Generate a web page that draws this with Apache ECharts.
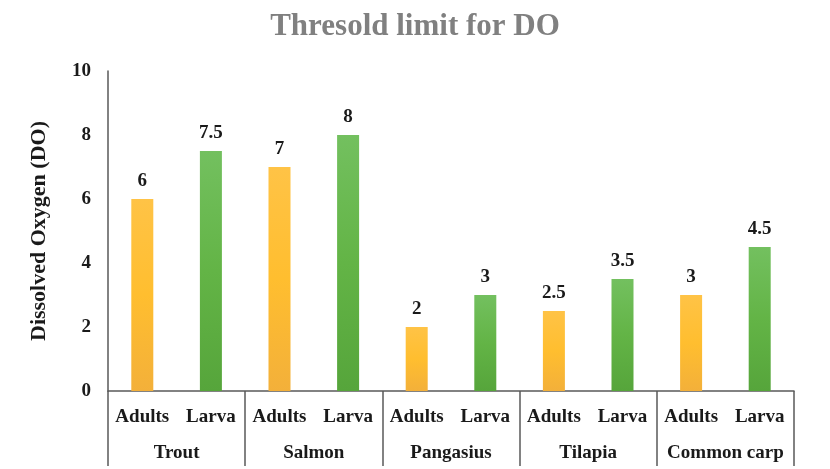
<!DOCTYPE html>
<html>
<head>
<meta charset="utf-8">
<script src="https://cdn.jsdelivr.net/npm/echarts@6/dist/echarts.min.js"></script>
<style>
  html, body { margin: 0; padding: 0; background: #fff; }
  #chart { width: 830px; height: 469px; }
</style>
</head>
<body>
<div id="chart"></div>
<script>
// chart data
var groups = ["Trout", "Salmon", "Pangasius", "Tilapia", "Common carp"];
var stages = ["Adults", "Larva"];
var adultsValues = [6, 7, 2, 2.5, 3];
var larvaValues = [7.5, 8, 3, 3.5, 4.5];
var yTicks = [0, 2, 4, 6, 8, 10];

var serif = "'Liberation Serif', 'DejaVu Serif', serif";

// colour per stage (vertical gradients)
var stageColors = [
    new echarts.graphic.LinearGradient(0, 0, 0, 1, [
        { offset: 0, color: "#ffc346" },
        { offset: 0.5, color: "#ffbe2f" },
        { offset: 1, color: "#f3b03a" }
    ]),
    new echarts.graphic.LinearGradient(0, 0, 0, 1, [
        { offset: 0, color: "#73c05f" },
        { offset: 0.5, color: "#63b446" },
        { offset: 1, color: "#56a53b" }
    ])
];

// flatten into one category per group/stage
var categories = [];
var barData = [];
groups.forEach(function (g, i) {
    [adultsValues[i], larvaValues[i]].forEach(function (v, s) {
        categories.push(stages[s]);
        barData.push({ value: v, itemStyle: { color: stageColors[s] } });
    });
});

var chart = echarts.init(document.getElementById("chart"));
chart.setOption({
    animation: false,
    title: {
        text: "Thresold limit for DO",
        left: "center",
        top: 6,
        textStyle: {
            fontFamily: serif,
            fontSize: 31,
            fontWeight: "bold",
            color: "#808080"
        }
    },
    grid: {
        left: 108,
        right: 36,
        top: 71,
        bottom: 78
    },
    xAxis: [{
        type: "category",
        data: categories,
        axisLine: { lineStyle: { color: "#595959", width: 1.5 } },
        axisTick: { show: false },
        axisLabel: {
            margin: 17,
            fontFamily: serif,
            fontSize: 19,
            fontWeight: "bold",
            color: "#1a1a1a",
            interval: 0
        }
    }, {
        type: "category",
        data: groups,
        position: "bottom",
        axisLine: { show: false },
        axisTick: {
            show: true,
            length: 75,
            lineStyle: { color: "#595959", width: 1.5 }
        },
        axisLabel: {
            margin: 53,
            fontFamily: serif,
            fontSize: 19,
            fontWeight: "bold",
            color: "#1a1a1a",
            interval: 0
        }
    }],
    yAxis: {
        type: "value",
        min: yTicks[0],
        max: yTicks[yTicks.length - 1],
        interval: 2,
        name: "Dissolved Oxygen (DO)",
        nameLocation: "middle",
        nameGap: 58,
        nameTextStyle: {
            fontFamily: serif,
            fontSize: 22,
            fontWeight: "bold",
            color: "#1a1a1a"
        },
        axisLine: { show: true, lineStyle: { color: "#595959", width: 1.5 } },
        axisTick: { show: false },
        splitLine: { show: false },
        axisLabel: {
            margin: 17,
            fontFamily: serif,
            fontSize: 19,
            fontWeight: "bold",
            color: "#1a1a1a"
        }
    },
    series: [{
        type: "bar",
        xAxisIndex: 0,
        data: barData,
        barWidth: 22,
        label: {
            show: true,
            position: "top",
            distance: 8,
            fontFamily: serif,
            fontSize: 19,
            fontWeight: "bold",
            color: "#1a1a1a"
        }
    }]
});
</script>
</body>
</html>
